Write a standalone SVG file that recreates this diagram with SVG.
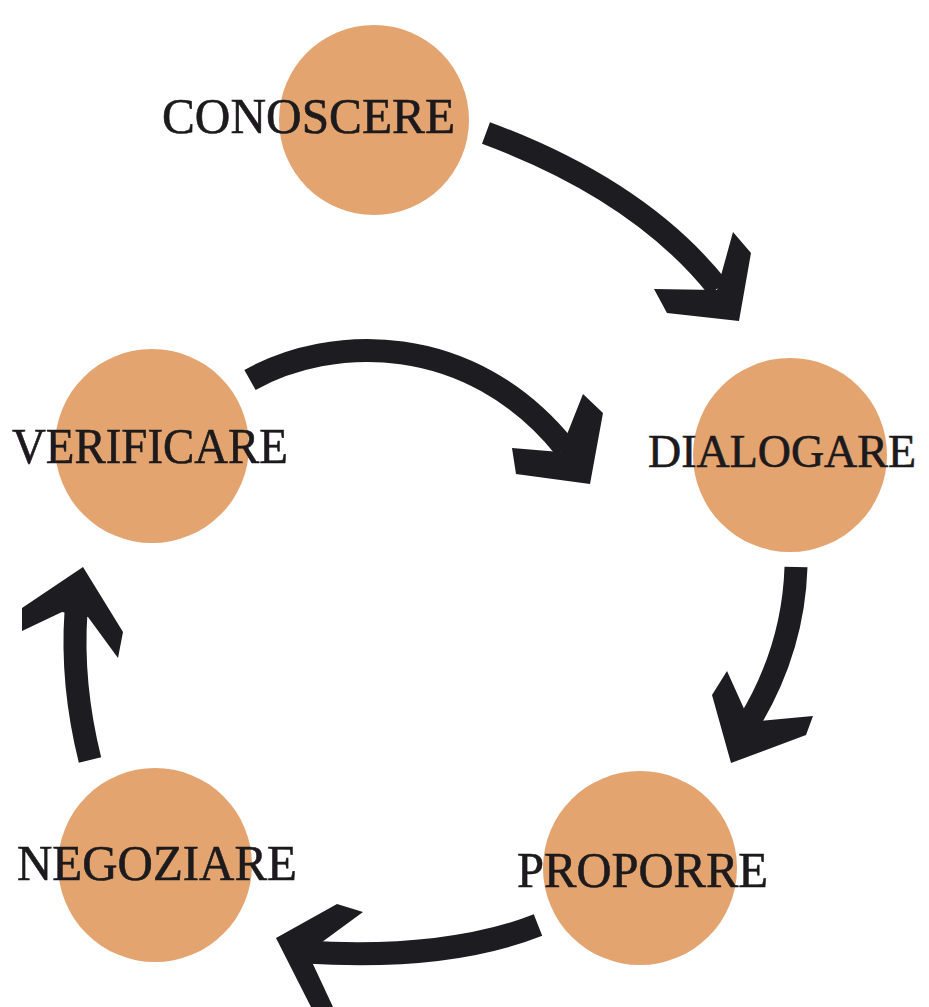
<svg xmlns="http://www.w3.org/2000/svg" width="929" height="1007" viewBox="0 0 929 1007">
<style>
.c{fill:#e3a46f}
.t{font-family:"Liberation Serif","Times New Roman",serif;font-size:50px;fill:#1c1a1c;stroke:#1c1a1c;stroke-width:0.6}
.s{fill:none;stroke:#1d1c21;stroke-width:23;stroke-linecap:butt}
.h{fill:#1d1c21}
</style>
<rect width="929" height="1007" fill="#ffffff"/>
<g id="connectors">
<path class="s" d="M486,133 Q640,190 718,288"/>
<polygon class="h" points="654,289 717,290 733,232 751,253 739,321 667,313"/>
<path class="s" d="M250,380 C330,335 470,330 565,448"/>
<polygon class="h" points="512,448 560,452 583,394 603,413 590,484 516,474"/>
<path class="s" d="M796,567 C794,630 775,680 748,724"/>
<polygon class="h" points="727,671 750,722 813,716 806,735 731,763 712,695"/>
<path class="s" d="M90,760 C80,720 72,670 76,612"/>
<polygon class="h" points="83,567 123,632 118,658 88,617 62,612 22,631 22,608"/>
<path class="s" d="M538,925 C480,948 400,958 305,952"/>
<polygon class="h" points="276,938 337,904 363,912 318,945 312,962 333,1007 311,1007"/>
</g>
<g id="conoscere">
<circle class="c" cx="374" cy="120" r="95"/>
<text class="t" x="162" y="133" textLength="293" lengthAdjust="spacingAndGlyphs">CONOSCERE</text>
</g>
<g id="verificare">
<circle class="c" cx="152" cy="446" r="97"/>
<text class="t" x="12" y="463" textLength="276" lengthAdjust="spacingAndGlyphs">VERIFICARE</text>
</g>
<g id="dialogare">
<circle class="c" cx="790" cy="455" r="97"/>
<text class="t" x="648" y="467" style="font-size:47px" textLength="268" lengthAdjust="spacingAndGlyphs">DIALOGARE</text>
</g>
<g id="negoziare">
<circle class="c" cx="155" cy="865" r="97"/>
<text class="t" x="17" y="880" textLength="280" lengthAdjust="spacingAndGlyphs">NEGOZIARE</text>
</g>
<g id="proporre">
<circle class="c" cx="640" cy="868" r="97"/>
<text class="t" x="517" y="887" textLength="251" lengthAdjust="spacingAndGlyphs">PROPORRE</text>
</g>
</svg>
